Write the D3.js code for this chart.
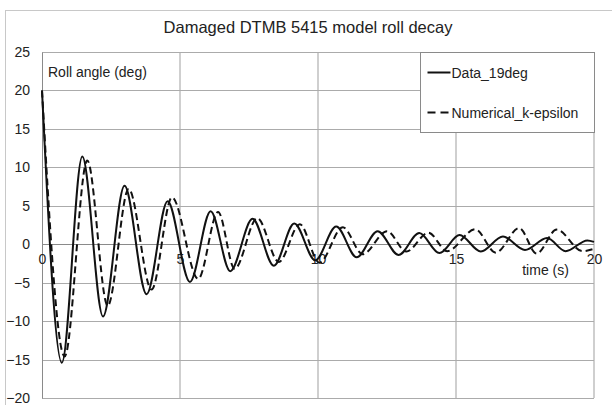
<!DOCTYPE html>
<html>
<head>
<meta charset="utf-8">
<script src="https://cdn.jsdelivr.net/npm/d3@7"></script>
<style>
  body { margin: 0; background: #fff; }
  text { font-family: "Liberation Sans", Arial, sans-serif; fill: #222; }
</style>
</head>
<body>
<div id="chart"></div>
<script>
// roll decay, peaks and troughs
const dataTime = [0, 0.72, 1.46, 2.21, 2.99, 3.79, 4.55, 5.36, 6.11, 6.82, 7.63, 8.4, 9.14, 9.9,
  10.66, 11.4, 12.16, 12.92, 13.67, 14.4, 15.13, 15.9, 16.7, 17.5, 18.3, 18.97, 19.76, 20];
const dataRoll = [20, -15.4, 11.4, -9.4, 7.6, -6.5, 5.6, -4.9, 4.3, -3.5, 3.3, -2.8, 2.7, -2.1,
  2.3, -1.7, 1.7, -1.4, 1.45, -1.15, 1.2, -0.95, 1.0, -0.75, 0.8, -0.9, 0.5, 0.3];

const numTime = [0, 0.82, 1.64, 2.38, 3.14, 3.97, 4.71, 5.66, 6.38, 6.98, 7.8, 8.58, 9.34, 10.05,
  10.9, 11.62, 12.5, 13.2, 14.0, 14.68, 15.7, 16.44, 17.29, 17.92, 18.65, 19.58, 20];
const numRoll = [20, -14.6, 10.9, -8.0, 7.2, -5.9, 6.1, -4.5, 4.2, -3.2, 3.4, -2.3, 2.6, -2.4,
  2.2, -1.3, 1.7, -0.95, 1.5, -0.9, 1.95, -1.1, 2.1, -1.2, 1.9, -0.9, -0.6];

const xTicks = [0, 5, 10, 15, 20];
const yTicks = [-20, -15, -10, -5, 0, 5, 10, 15, 20, 25];

const seriesNames = ["Data_19deg", "Numerical_k-epsilon"];

const margin = { top: 52, right: 18, bottom: 7, left: 42 };
const width = 612 - margin.left - margin.right;
const height = 405 - margin.top - margin.bottom;

const svg = d3
  .select("#chart")
  .append("svg")
  .attr("width", 612)
  .attr("height", 405);

// outer chart border (only top/left are visible in the picture)
svg
  .append("rect")
  .attr("x", 5.5)
  .attr("y", 10.5)
  .attr("width", 640)
  .attr("height", 440)
  .attr("fill", "none")
  .attr("stroke", "#c8c8c8");

svg
  .append("text")
  .attr("x", 308)
  .attr("y", 33)
  .attr("text-anchor", "middle")
  .style("font-size", "16.5px")
  .text("Damaged DTMB 5415 model roll decay");

const g = svg
  .append("g")
  .attr("transform", `translate(${margin.left},${margin.top})`);

const x = d3.scaleLinear().domain([0, 20]).range([0, width]);
const y = d3.scaleLinear().domain([-20, 25]).range([height, 0]);

// grid
g.selectAll(".vgrid")
  .data(xTicks.slice(1))
  .join("line")
  .attr("class", "vgrid")
  .attr("x1", (d) => x(d))
  .attr("x2", (d) => x(d))
  .attr("y1", 0)
  .attr("y2", height)
  .attr("stroke", "#cfcfcf")
  .attr("stroke-width", 2);

g.selectAll(".hgrid")
  .data(yTicks)
  .join("line")
  .attr("class", "hgrid")
  .attr("x1", 0)
  .attr("x2", width)
  .attr("y1", (d) => Math.round(y(d)) + 0.5)
  .attr("y2", (d) => Math.round(y(d)) + 0.5)
  .attr("stroke", (d) => (d === 0 ? "#8a8a8a" : "#ababab"))
  .attr("stroke-width", 1);

// y axis
const yAxis = g
  .append("g")
  .call(d3.axisLeft(y).tickValues(yTicks).tickSize(0).tickPadding(12));
yAxis.select(".domain").attr("stroke", "#8a8a8a");
yAxis
  .selectAll("text")
  .style("font-size", "14px")
  .style("font-family", "Liberation Sans, Arial, sans-serif")
  .attr("fill", "#222");

// x axis sits on the zero line
const xAxis = g
  .append("g")
  .attr("transform", `translate(0,${y(0)})`)
  .call(d3.axisBottom(x).tickValues(xTicks).tickSize(0).tickPadding(10));
xAxis.select(".domain").remove();
xAxis
  .selectAll("text")
  .style("font-size", "14px")
  .style("font-family", "Liberation Sans, Arial, sans-serif")
  .attr("fill", "#222");

g.append("text")
  .attr("x", 6)
  .attr("y", 25)
  .style("font-size", "14px")
  .text("Roll angle (deg)");

g.append("text")
  .attr("x", x(17.4))
  .attr("y", y(0) + 31)
  .style("font-size", "14px")
  .text("time (s)");

const line = d3
  .line()
  .x((d) => x(d[0]))
  .y((d) => y(d[1]))
  .curve(d3.curveMonotoneX);

const series = [
  { name: seriesNames[0], pts: d3.zip(dataTime, dataRoll), dash: null },
  { name: seriesNames[1], pts: d3.zip(numTime, numRoll), dash: "7,4" },
];

g.selectAll(".roll")
  .data(series)
  .join("path")
  .attr("class", "roll")
  .attr("d", (d) => line(d.pts))
  .attr("fill", "none")
  .attr("stroke", "#111")
  .attr("stroke-width", 2)
  .attr("stroke-dasharray", (d) => d.dash);

// legend
const legend = svg.append("g").attr("transform", "translate(420.5,52.5)");
legend
  .append("rect")
  .attr("width", 174)
  .attr("height", 80)
  .attr("fill", "#fff")
  .attr("stroke", "#8a8a8a");

const item = legend
  .selectAll(".item")
  .data(series)
  .join("g")
  .attr("class", "item")
  .attr("transform", (d, i) => `translate(0,${20 + i * 40})`);

item
  .append("line")
  .attr("x1", 7)
  .attr("x2", 30)
  .attr("stroke", "#111")
  .attr("stroke-width", 2)
  .attr("stroke-dasharray", (d) => (d.dash ? "8,5" : null));

item
  .append("text")
  .attr("x", 31)
  .attr("y", 5)
  .style("font-size", "14px")
  .text((d) => d.name);
</script>
</body>
</html>
